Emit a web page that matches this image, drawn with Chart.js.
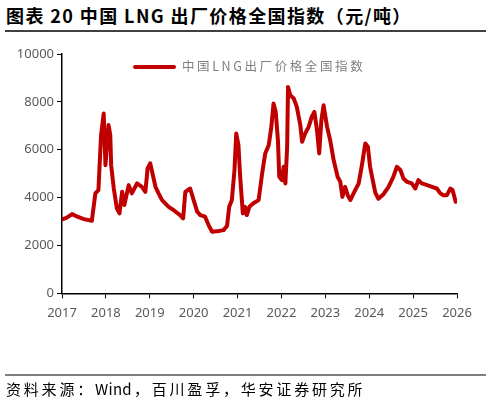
<!DOCTYPE html>
<html>
<head>
<meta charset="utf-8">
<script src="https://cdn.jsdelivr.net/npm/chart.js@4.4.0/dist/chart.umd.min.js"></script>
<style>
  html, body { margin:0; padding:0; background:#fff; }
  body { width:491px; height:405px; position:relative; overflow:hidden; font-family:"Noto Sans CJK SC","Noto Sans",sans-serif; }
  #title { position:absolute; left:6px; top:3px; font-size:18px; font-weight:bold; color:#000; letter-spacing:1.4px; white-space:nowrap; line-height:24px; }
  #topline { position:absolute; left:5px; top:30px; width:481px; height:1.5px; background:#404040; }
  #botline { position:absolute; left:5px; top:373.5px; width:481px; height:2px; background:#7f7f7f; }
  #source { position:absolute; left:6px; top:378px; font-size:15px; color:#000; letter-spacing:2.8px; white-space:nowrap; line-height:22px; }
  #source .w { letter-spacing:0.3px; margin-right:2px; }
  #legend { position:absolute; left:133px; top:57px; height:18px; white-space:nowrap; }
  #legend .sw { position:absolute; left:0; top:7.5px; width:43px; height:4px; border-radius:2px; background:#c00000; }
  #legend .tx { position:absolute; left:49px; top:0; font-size:12.5px; color:#7f7f7f; letter-spacing:2.6px; line-height:18px; }
  canvas { position:absolute; left:0; top:0; }
</style>
</head>
<body>
<div id="title">图表 20 中国 LNG 出厂价格全国指数（元/吨）</div>
<div id="topline"></div>
<canvas id="c" width="491" height="405"></canvas>
<div id="legend"><div class="sw"></div><div class="tx">中国LNG出厂价格全国指数</div></div>
<div id="botline"></div>
<div id="source">资料来源：<span class="w">Wind</span>，百川盈孚，华安证券研究所</div>
<script>
const seriesName = "中国LNG出厂价格全国指数";
const dates = [
  2017.02,2017.10,2017.23,2017.35,2017.50,2017.68,2017.76,2017.83,2017.89,2017.95,
  2017.99,2018.06,2018.10,2018.12,2018.18,2018.25,2018.31,2018.37,2018.42,2018.52,
  2018.59,2018.71,2018.82,2018.90,2018.95,2019.01,2019.13,2019.20,2019.28,2019.43,
  2019.54,2019.69,2019.76,2019.81,2019.92,2020.00,2020.08,2020.15,2020.26,2020.34,
  2020.42,2020.57,2020.68,2020.76,2020.81,2020.87,2020.93,2020.97,2021.02,2021.06,
  2021.12,2021.17,2021.21,2021.27,2021.36,2021.48,2021.56,2021.63,2021.71,2021.77,
  2021.82,2021.87,2021.92,2021.95,2022.01,2022.05,2022.09,2022.13,2022.15,2022.20,
  2022.28,2022.35,2022.43,2022.47,2022.54,2022.62,2022.69,2022.75,2022.81,2022.86,
  2022.91,2022.96,2023.04,2023.11,2023.19,2023.28,2023.34,2023.39,2023.45,2023.51,
  2023.57,2023.68,2023.76,2023.84,2023.91,2023.97,2024.02,2024.08,2024.14,2024.21,
  2024.33,2024.44,2024.55,2024.63,2024.71,2024.78,2024.86,2024.97,2025.05,2025.12,
  2025.20,2025.32,2025.43,2025.54,2025.62,2025.69,2025.77,2025.85,2025.90,2025.94,
  2025.97
];
const values = [
  3100,3150,3310,3200,3100,3030,4175,4310,6610,7515,
  5355,7030,6610,5355,4380,3550,3340,4240,3690,4520,
  4175,4590,4450,4240,5220,5430,4450,4175,3895,3615,
  3480,3270,3130,4240,4380,3895,3410,3270,3200,2850,
  2570,2600,2640,2810,3615,3895,5150,6680,6190,4870,
  3340,3615,3270,3615,3760,3895,5010,5845,6190,6955,
  7930,7580,6400,4870,4730,5285,4590,6120,8625,8280,
  8140,7790,7030,6330,6680,6955,7370,7580,6820,5845,
  7235,7860,6955,6400,5565,4870,4660,4030,4450,4100,
  3895,4310,4590,5430,6260,6120,5285,4730,4200,3950,
  4150,4450,4870,5285,5150,4800,4660,4590,4380,4730,
  4590,4520,4450,4380,4175,4100,4100,4380,4310,4030,
  3825
];
const xTicks = [2017,2018,2019,2020,2021,2022,2023,2024,2025,2026];
const yTicks = [0,2000,4000,6000,8000,10000];

const points = dates.map((d, i) => ({ x: d, y: values[i] }));

new Chart(document.getElementById('c'), {
  type: 'line',
  data: { datasets: [{
    label: seriesName,
    data: points,
    borderColor: '#c00000',
    borderWidth: 4,
    pointRadius: 0,
    tension: 0,
    borderJoinStyle: 'round',
    borderCapStyle: 'round',
    fill: false
  }]},
  options: {
    responsive: false,
    animation: false,
    devicePixelRatio: 1,
    layout: { padding: { left: 0, top: 54, right: 34, bottom: 81.7 } },
    plugins: { legend: { display: false }, tooltip: { enabled: false } },
    scales: {
      x: {
        type: 'linear',
        min: xTicks[0], max: xTicks[xTicks.length - 1],
        afterBuildTicks: (s) => { s.ticks = xTicks.map(v => ({ value: v })); },
        afterFit: (s) => { s.height = 30; },
        ticks: { color: '#595959', font: { family: 'Noto Sans', size: 13 }, padding: 7, maxRotation: 0, autoSkip: false, callback: v => String(v) },
        grid: { drawOnChartArea: false, drawTicks: true, tickLength: 5, color: '#000', lineWidth: 1 },
        border: { display: true, color: '#000', width: 1.5 }
      },
      y: {
        min: 0, max: 10000,
        afterBuildTicks: (s) => { s.ticks = yTicks.map(v => ({ value: v })); },
        afterFit: (s) => { s.width = 62; },
        ticks: { color: '#595959', font: { family: 'Noto Sans', size: 13 }, padding: 3, callback: v => String(v) },
        grid: { drawOnChartArea: false, drawTicks: true, tickLength: 5, color: '#000', lineWidth: 1 },
        border: { display: true, color: '#000', width: 1.5 }
      }
    }
  }
});
</script>
</body>
</html>
